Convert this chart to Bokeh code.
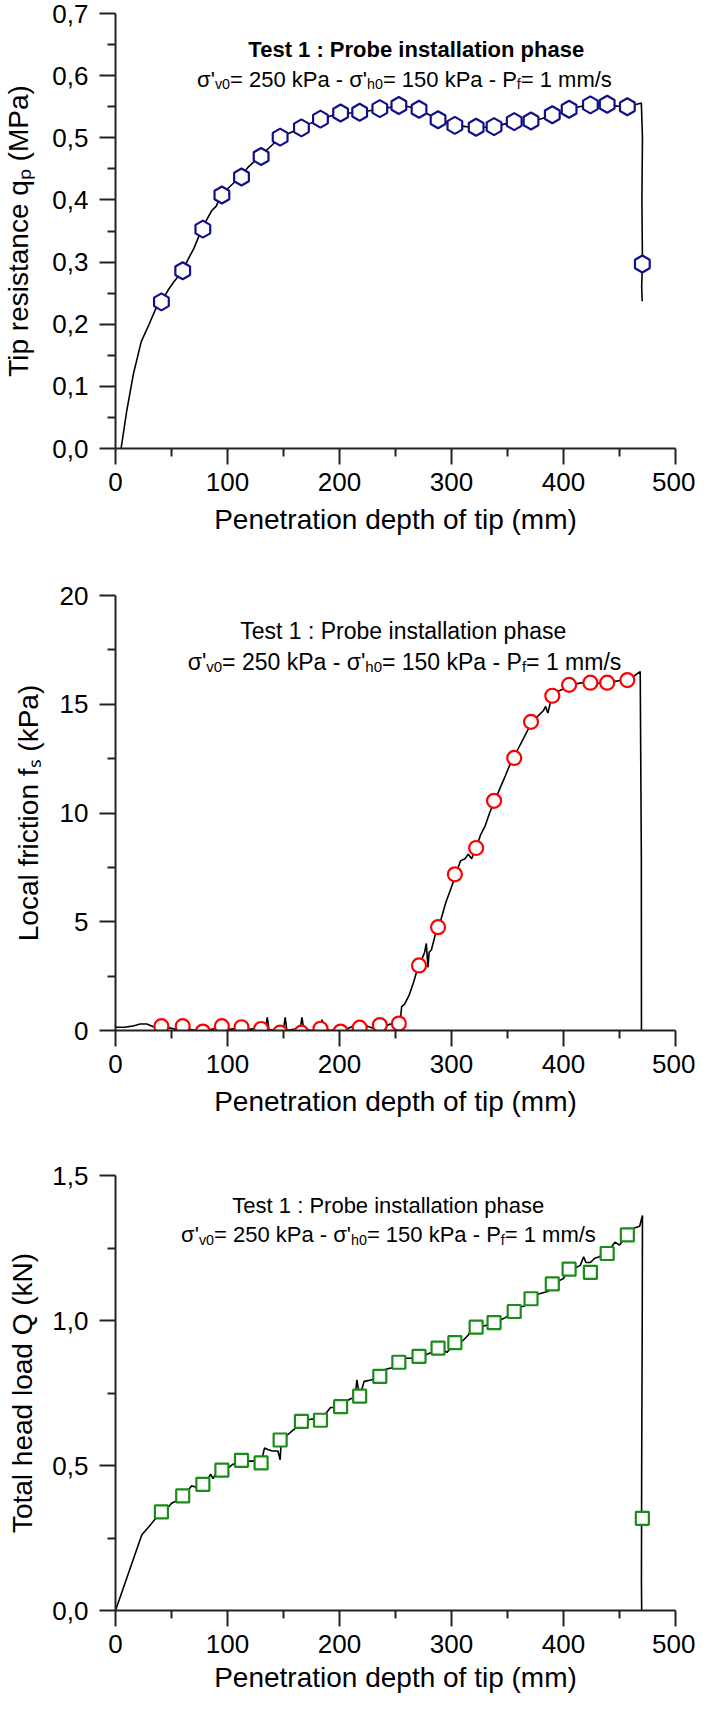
import numpy as np
from bokeh.plotting import figure
from bokeh.models import Label, FixedTicker, CustomJSTickFormatter, Range1d
from bokeh.layouts import column
from bokeh.embed import file_html
from bokeh.resources import INLINE

FONT = "Liberation Sans"

# ---------------- data ----------------
# marker depths (mm), shared by the three charts
mark_x = [41, 60, 78, 95, 112.5, 130, 147, 166, 183, 201, 218, 236, 253, 271, 288, 303, 322, 338,
          356, 371, 390, 405, 424, 439, 457, 470.4]

# chart 1: tip resistance (MPa)
qp_marks = [0.236, 0.286, 0.353, 0.408, 0.437, 0.470, 0.501, 0.516, 0.530, 0.540, 0.541, 0.547,
            0.552, 0.546, 0.529, 0.520, 0.517, 0.518, 0.526, 0.527, 0.537, 0.546, 0.553, 0.554,
            0.550, 0.297]
qp_line_x = [5, 10, 16, 23, 30, 36, 41, 47, 52, 60, 65, 70, 77, 82, 86, 90, 94, 100, 106, 112, 118,
             124, 130, 136, 142, 148, 156, 166, 175, 184, 192, 202, 210, 219, 228, 237, 245, 254,
             262, 271, 280, 288, 296, 304, 313, 322, 330, 339, 347, 356, 364, 373, 381, 390, 398,
             405, 414, 424, 432, 439, 448, 457, 464, 469.5, 470.5, 470.0, 470.5, 469.8, 470.3]
qp_line_y = [0.0, 0.06, 0.12, 0.172, 0.2, 0.225, 0.236, 0.255, 0.268, 0.286, 0.305, 0.322, 0.353,
             0.37, 0.383, 0.39, 0.408, 0.418, 0.428, 0.437, 0.452, 0.462, 0.470, 0.482, 0.492,
             0.501, 0.508, 0.516, 0.524, 0.530, 0.535, 0.539, 0.540, 0.541, 0.544, 0.547, 0.549,
             0.552, 0.550, 0.546, 0.537, 0.529, 0.524, 0.520, 0.518, 0.517, 0.517, 0.518, 0.522,
             0.526, 0.526, 0.527, 0.531, 0.537, 0.541, 0.546, 0.550, 0.553, 0.554, 0.554, 0.551,
             0.550, 0.553, 0.556, 0.50, 0.40, 0.30, 0.26, 0.237]

# chart 2: local friction (kPa)
fs_marks = [0.2, 0.2, -0.05, 0.2, 0.15, 0.07, -0.1, -0.1, 0.08, -0.05, 0.13, 0.25, 0.32, 2.99,
            4.75, 7.18, 8.39, 10.56, 12.53, 14.19, 15.39, 15.89, 15.99, 15.99, 16.11]
fs_line_x = [0, 8, 15, 22, 28, 35, 41, 48, 55, 60, 66, 72, 78, 85, 90, 95, 102, 108, 113, 120, 126,
             130, 134, 135.5, 137, 142, 147, 150, 151.5, 153, 158, 163, 165, 166.5, 168, 175, 181,
             183, 184.5, 186, 192, 198, 203, 208, 212, 215, 220, 225, 230, 235, 240, 245, 250, 254,
             255.5, 258, 262, 266, 270, 273, 276, 277.5, 279, 280, 282, 286, 290, 295, 300, 304,
             308, 312, 315, 318, 322, 326, 330, 334, 338, 343, 348, 352, 356, 360, 365, 370, 374,
             378, 382, 384, 386, 390, 395, 400, 405, 412, 418, 424, 430, 436, 440, 446, 452, 457,
             463, 468.5, 469.5, 469.5, 469.6]
fs_line_y = [0.15, 0.15, 0.2, 0.3, 0.3, 0.15, 0.1, 0.12, 0.05, 0.1, 0.05, 0.0, 0.0, 0.05, 0.1, 0.1,
             0.05, 0.1, 0.08, 0.05, 0.1, 0.05, 0.1, 0.6, 0.05, 0.0, 0.05, 0.05, 0.6, 0.0, 0.05,
             0.05, 0.1, 0.6, 0.05, 0.0, 0.05, 0.1, 0.5, 0.05, 0.0, 0.05, 0.0, 0.1, 0.2, 0.05, 0.15,
             0.2, 0.1, 0.2, 0.15, 0.3, 0.2, 0.3, 1.1, 1.2, 1.6, 2.2, 2.9, 3.2, 3.6, 4.0, 2.9, 3.6,
             3.7, 4.5, 5.0, 5.9, 6.6, 7.2, 7.8, 7.9, 8.1, 7.9, 8.4, 9.0, 9.4, 10.0, 10.5, 11.1,
             11.7, 12.2, 12.6, 13.0, 13.5, 14.0, 14.3, 14.5, 14.7, 14.9, 14.6, 15.4, 15.6, 15.7,
             15.9, 15.95, 16.0, 16.0, 15.95, 16.0, 16.0, 16.05, 16.1, 16.1, 16.3, 16.5, 8.0, 7.8,
             0.0]

# chart 3: total head load (kN)
q_marks = [0.340, 0.395, 0.435, 0.484, 0.518, 0.509, 0.588, 0.652, 0.656, 0.703, 0.739, 0.807,
           0.856, 0.876, 0.905, 0.924, 0.977, 0.993, 1.031, 1.075, 1.126, 1.177, 1.166, 1.231,
           1.295, 0.318]
q_line_x = [0, 23.5, 30, 36, 41, 45, 48, 50, 53, 56, 60, 64, 66, 68, 72, 75, 78, 82, 85, 87, 90,
            95, 100, 105, 108, 112, 116, 120, 125, 130, 133, 136, 140, 145, 147, 148, 152, 158,
            163, 166, 170, 175, 180, 184, 188, 192, 197, 201, 205, 210, 214, 215.5, 218, 222, 228,
            236, 240, 245, 250, 253, 258, 264, 271, 276, 282, 288, 292, 296, 300, 304, 310, 315,
            318, 322, 328, 333, 338, 343, 348, 352, 356, 360, 365, 371, 376, 381, 386, 390, 395,
            400, 405, 410, 415, 418, 420, 424, 428, 432, 436, 439, 442, 446, 450, 454, 457, 460,
            464, 468, 470.5, 470.3, 469.8, 469.6, 469.8]
q_line_y = [0.0, 0.261, 0.29, 0.318, 0.34, 0.345, 0.36, 0.37, 0.375, 0.385, 0.395, 0.41, 0.42,
            0.43, 0.425, 0.44, 0.435, 0.45, 0.47, 0.455, 0.475, 0.484, 0.49, 0.505, 0.5, 0.518,
            0.52, 0.515, 0.515, 0.509, 0.56, 0.555, 0.55, 0.55, 0.52, 0.588, 0.6, 0.62, 0.635,
            0.652, 0.655, 0.66, 0.66, 0.656, 0.68, 0.7, 0.7, 0.703, 0.72, 0.73, 0.735, 0.795,
            0.739, 0.79, 0.795, 0.807, 0.83, 0.835, 0.84, 0.856, 0.87, 0.87, 0.876, 0.88, 0.89,
            0.905, 0.9, 0.89, 0.91, 0.924, 0.93, 0.95, 0.97, 0.977, 0.98, 0.985, 0.993, 1.0, 1.01,
            1.02, 1.031, 1.045, 1.05, 1.075, 1.09, 1.095, 1.1, 1.126, 1.135, 1.145, 1.177, 1.18,
            1.19, 1.22, 1.2, 1.2, 1.215, 1.22, 1.23, 1.231, 1.25, 1.27, 1.26, 1.28, 1.295, 1.31,
            1.32, 1.325, 1.362, 1.0, 0.5, 0.1, 0.0]

x_ticks = [0, 100, 200, 300, 400, 500]
x_minor = [50, 150, 250, 350, 450]
title_1 = "Test 1 : Probe installation phase"
sub_segments = [("σ'", 1, 0), ("v0", 0.65, 5), ("= 250 kPa - σ'", 1, 0), ("h0", 0.65, 5),
                ("= 150 kPa - P", 1, 0), ("f", 0.65, 5), ("= 1 mm/s", 1, 0)]
x_title = "Penetration depth of tip (mm)"
y_title_1 = "Tip resistance q\u209a (MPa)"
y_title_2 = "Local friction f\u209b (kPa)"
y_title_3 = "Total head load Q (kN)"

# ---------------- helpers ----------------
W = {' ': 278, "'": 191, '(': 333, ')': 333, '-': 333, '/': 278, ':': 278, '=': 584, ',': 278,
     '.': 278, 'P': 667, 'Q': 778, 'T': 611, 'L': 556, 'M': 833, 'N': 722, 'a': 556, 'c': 500,
     'd': 556, 'e': 556, 'f': 278, 'h': 556, 'i': 222, 'k': 500, 'l': 222, 'm': 833, 'n': 556,
     'o': 556, 'p': 556, 'q': 556, 'r': 333, 's': 500, 't': 278, 'v': 500, 'σ': 617}
for d in "0123456789":
    W[d] = 556


def tw(s, size):
    return sum(W.get(c, 556) for c in s) / 1000.0 * size


FW, FH = 560, 435          # frame size in pixels
XS = 500.0 / FW            # data units per pixel along x
AX = "#222222"


def make_fig(height, y_end, y_ticks, y_minor, fmt_code, border_bottom, title_standoff,
             y_title, y_standoff):
    p = figure(width=695, height=height, output_backend="svg", toolbar_location=None,
               x_range=Range1d(0, 500), y_range=Range1d(0, y_end),
               min_border_left=115, min_border_right=20, min_border_top=13,
               min_border_bottom=border_bottom)
    p.outline_line_color = None
    p.grid.visible = False
    p.xaxis.ticker = FixedTicker(ticks=x_ticks, minor_ticks=x_minor)
    p.yaxis.ticker = FixedTicker(ticks=y_ticks, minor_ticks=y_minor)
    p.yaxis.formatter = CustomJSTickFormatter(code=fmt_code)
    for ax in (p.xaxis, p.yaxis):
        ax.axis_line_color = AX
        ax.axis_line_width = 2
        ax.major_tick_line_color = AX
        ax.minor_tick_line_color = AX
        ax.major_tick_line_width = 2
        ax.minor_tick_line_width = 2
        ax.major_tick_out = 16
        ax.major_tick_in = 0
        ax.minor_tick_out = 8
        ax.minor_tick_in = 0
        ax.major_label_text_font = FONT
        ax.major_label_text_font_size = "26px"
        ax.major_label_text_color = "black"
        ax.axis_label_text_font = FONT
        ax.axis_label_text_font_size = "28px"
        ax.axis_label_text_font_style = "normal"
        ax.axis_label_text_color = "black"
    p.xaxis.major_label_standoff = 8
    p.yaxis.major_label_standoff = 11
    p.xaxis.axis_label = x_title
    p.xaxis.axis_label_standoff = title_standoff
    p.yaxis.axis_label = y_title
    p.yaxis.axis_label_standoff = y_standoff
    return p


def rich_h(p, segs, cx, base, size, y_end, bold=False):
    # cx: centre, px right of x = 0 ; base: baseline, px below the top of the frame
    total = sum(tw(t, size * f) for t, f, dy in segs)
    x = cx - total / 2.0
    for t, f, dy in segs:
        fsz = size * f
        lead = len(t) - len(t.lstrip(" "))
        x += tw(" " * lead, fsz)
        t2 = t.lstrip(" ")
        p.add_layout(Label(x=x * XS, y=y_end - (base + dy) * y_end / FH, text=t2,
                           text_font=FONT, text_font_size=f"{fsz:.1f}px",
                           text_font_style="bold" if bold else "normal",
                           text_baseline="alphabetic", text_align="left", text_color="black"))
        x += tw(t2, fsz)


# ---------------- chart 1 ----------------
p1 = make_fig(582, 0.7, [0, 0.1, 0.2, 0.3, 0.4, 0.5, 0.6, 0.7],
              [0.05, 0.15, 0.25, 0.35, 0.45, 0.55, 0.65],
              "return tick.toFixed(1).replace('.', ',')", 134, 10, y_title_1, 15)
p1.line(qp_line_x, qp_line_y, line_color="black", line_width=1.6)
p1.scatter(mark_x, qp_marks, marker="hex", size=17, angle=np.pi / 2, fill_color="white",
           line_color="#10108C", line_width=2.2)
rich_h(p1, [(title_1, 1, 0)], 290, 36, 22, 0.7, bold=True)
rich_h(p1, sub_segments, 289, 65.5, 22, 0.7)

# ---------------- chart 2 ----------------
p2 = make_fig(580, 20, [0, 5, 10, 15, 20], [2.5, 7.5, 12.5, 17.5],
              "return tick.toFixed(0)", 132, 10, y_title_2, 13)
p2.line(fs_line_x, fs_line_y, line_color="black", line_width=1.6)
p2.scatter(mark_x[:25], fs_marks, marker="circle", size=14, fill_color="white",
           line_color="#FF0000", line_width=2.2)
rich_h(p2, [(title_1, 1, 0)], 289, 35, 23, 20)
rich_h(p2, sub_segments, 289, 66, 23, 20)

# ---------------- chart 3 ----------------
p3 = make_fig(541, 1.5, [0, 0.5, 1.0, 1.5], [0.25, 0.75, 1.25],
              "return tick.toFixed(1).replace('.', ',')", 93, 6, y_title_3, 11)
p3.line(q_line_x, q_line_y, line_color="black", line_width=1.6)
p3.scatter(mark_x, q_marks, marker="square", size=13, fill_color="white",
           line_color="#1A8C1A", line_width=2.2)
rich_h(p3, [(title_1, 1, 0)], 274, 30, 22, 1.5)
rich_h(p3, sub_segments, 273, 59, 22, 1.5)

layout = column(p1, p2, p3)
open("out.html", "w").write(file_html(layout, INLINE))
